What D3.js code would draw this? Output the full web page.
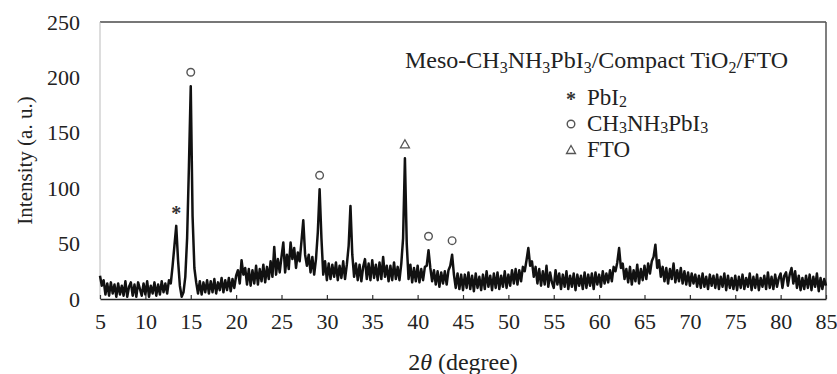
<!DOCTYPE html>
<html><head><meta charset="utf-8">
<script src="https://cdn.jsdelivr.net/npm/d3@7"></script>
<style>body{margin:0;background:#fff}svg{display:block}</style>
</head><body>
<svg id="c" width="837" height="374"></svg>
<script>
// 2θ grid: start 5°, step 0.2°
const thetaStart = 5, thetaStep = 0.2;
const intensity = [
 21,12,17,4,14,3,15,5,13,2,
 14,4,12,3,16,2,11,15,3,13,
 2,15,9,3,14,4,16,2,12,5,
 15,3,13,4,16,6,14,5,17,14,
 30,48,66,35,12,2,6,20,55,120,
 192,75,28,15,5,16,4,15,6,17,
 5,16,6,18,5,15,8,19,6,17,
 8,19,7,18,10,21,26,14,35,22,
 28,13,27,12,26,14,30,13,27,16,
 31,15,29,18,34,20,47,22,36,24,
 38,51,24,40,27,51,36,46,28,42,
 34,52,71,40,30,40,24,38,22,36,
 60,99,55,22,34,17,32,18,31,20,
 33,17,30,19,34,18,31,48,84,40,
 20,32,17,31,16,29,36,18,32,17,
 35,19,31,17,33,18,38,20,30,16,
 30,17,33,18,29,17,32,55,127,50,
 18,31,15,28,16,30,15,27,17,29,
 30,44,28,16,26,13,25,11,24,14,
 25,13,26,30,40,22,10,23,9,22,
 8,22,10,24,9,21,7,23,10,20,
 8,22,9,25,11,21,8,23,10,24,
 9,21,11,25,10,22,12,26,14,27,
 13,26,16,29,25,35,46,30,34,20,
 29,14,27,12,25,13,30,11,24,15,
 10,26,13,23,9,22,11,25,9,21,
 11,23,8,22,12,21,9,24,10,22,
 12,23,9,24,13,22,11,25,14,23,
 15,26,16,29,25,33,46,28,32,18,
 27,15,29,13,26,16,31,14,27,17,
 30,18,32,23,34,38,49,28,35,20,
 29,16,28,14,27,18,32,15,26,16,
 28,14,25,13,24,12,23,14,22,11,
 21,10,23,11,20,9,22,12,21,10,
 22,9,20,11,23,8,21,10,19,9,
 21,8,20,10,22,9,19,11,23,8,
 20,10,22,8,19,11,21,9,24,10,
 20,9,22,11,19,23,10,21,24,12,
 22,28,14,25,10,21,8,19,9,21,
 10,22,8,20,11,23,7,19,9,18,
 12
];
const xTickValues = [5,10,15,20,25,30,35,40,45,50,55,60,65,70,75,80,85];
const yTickValues = [0,50,100,150,200,250];
const peakMarkX = [13.4, 15.0, 29.2, 38.6, 41.2, 43.8];
const peakMarkY = [66, 192, 99, 127, 44, 40];
const peakMarkType = ["star","circle","circle","triangle","circle","circle"];
const legendTypes = ["star","circle","triangle"];
const legendLabels = [[["PbI",0],["2",1]], [["CH",0],["3",1],["NH",0],["3",1],["PbI",0],["3",1]], [["FTO",0]]];
const titleParts = [["Meso-CH",0],["3",1],["NH",0],["3",1],["PbI",0],["3",1],["/Compact TiO",0],["2",1],["/FTO",0]];

const W=837,H=374, m={l:100,r:11,t:22,b:75};
const svg=d3.select("#c");
const x=d3.scaleLinear().domain([5,85]).range([m.l,W-m.r]);
const y=d3.scaleLinear().domain([0,250]).range([H-m.b,m.t]);
const font="'Liberation Serif','Times New Roman',serif";

const data=intensity.map((v,i)=>[thetaStart+i*thetaStep,v]);

// frame
svg.append("line").attr("x1",m.l).attr("x2",W-m.r).attr("y1",m.t).attr("y2",m.t).attr("stroke","#777").attr("stroke-width",2);
svg.append("line").attr("x1",W-m.r).attr("x2",W-m.r).attr("y1",m.t).attr("y2",H-m.b).attr("stroke","#555").attr("stroke-width",1.5);
svg.append("line").attr("x1",m.l).attr("x2",m.l).attr("y1",m.t).attr("y2",H-m.b).attr("stroke","#bbb").attr("stroke-width",1);

// data line
svg.append("path").datum(data)
  .attr("d",d3.line().x(d=>x(d[0])).y(d=>y(d[1])))
  .attr("fill","none").attr("stroke","#111").attr("stroke-width",2.5).attr("stroke-linejoin","round");

// x axis
const xAxis=d3.axisBottom(x).tickValues(xTickValues).tickSizeInner(-4).tickSizeOuter(0).tickPadding(14);
const gx=svg.append("g").attr("transform",`translate(0,${H-m.b})`).call(xAxis);
gx.select(".domain").attr("stroke","#222").attr("stroke-width",1.5);
gx.selectAll(".tick line").attr("stroke","#333").attr("stroke-width",1.2);
gx.selectAll(".tick text").attr("font-family",font).attr("font-size",22).attr("fill","#222");

// y axis
const yAxis=d3.axisLeft(y).tickValues(yTickValues).tickSize(0).tickPadding(20);
const gy=svg.append("g").attr("transform",`translate(${m.l},0)`).call(yAxis);
gy.select(".domain").remove();
gy.selectAll(".tick text").attr("font-family",font).attr("font-size",22).attr("fill","#222");

// axis titles
svg.append("text").attr("transform",`translate(32,${(m.t+H-m.b)/2}) rotate(-90)`)
  .attr("text-anchor","middle").attr("font-family",font).attr("font-size",21).attr("fill","#222")
  .text("Intensity (a. u.)");
const xl=svg.append("text").attr("x",463).attr("y",370).attr("text-anchor","middle")
  .attr("font-family",font).attr("font-size",24).attr("fill","#222");
xl.append("tspan").text("2");
xl.append("tspan").attr("font-style","italic").text("θ");
xl.append("tspan").text(" (degree)");

function drawSymbol(g,type,cx,cy){
  if(type==="circle") g.append("circle").attr("cx",cx).attr("cy",cy).attr("r",3.8).attr("fill","none").attr("stroke","#555").attr("stroke-width",1.4);
  else if(type==="triangle") g.append("path").attr("d",`M${cx},${cy-4.5}L${cx+4.5},${cy+3.5}L${cx-4.5},${cy+3.5}Z`).attr("fill","none").attr("stroke","#555").attr("stroke-width",1.3);
  else g.append("text").attr("x",cx).attr("y",cy+8).attr("text-anchor","middle").attr("font-family",font).attr("font-size",20).attr("font-weight","bold").attr("fill","#333").text("*");
}
const gm=svg.append("g");
peakMarkX.forEach((px,i)=>drawSymbol(gm,peakMarkType[i],x(px),y(peakMarkY[i])-14));

// legend title
const tt=svg.append("text").attr("x",405).attr("y",68).attr("font-family",font).attr("font-size",24).attr("fill","#222");
titleParts.forEach(([s,sub],i)=>{
  const prevSub=i>0?titleParts[i-1][1]:0;
  tt.append("tspan").text(s).attr("font-size",sub?16:24).attr("dy",sub?5:(prevSub?-5:0));
});

const lg=svg.append("g");
legendTypes.forEach((tp,i)=>{
  const by=105+i*26;
  drawSymbol(lg,tp,571,by-7);
  const t=lg.append("text").attr("x",587).attr("y",by).attr("font-family",font).attr("font-size",23).attr("fill","#222");
  legendLabels[i].forEach(([s,sub],j)=>{
    const prevSub=j>0?legendLabels[i][j-1][1]:0;
    t.append("tspan").text(s).attr("font-size",sub?16:23).attr("dy",sub?2:(prevSub?-2:0));
  });
});
</script>
</body></html>
